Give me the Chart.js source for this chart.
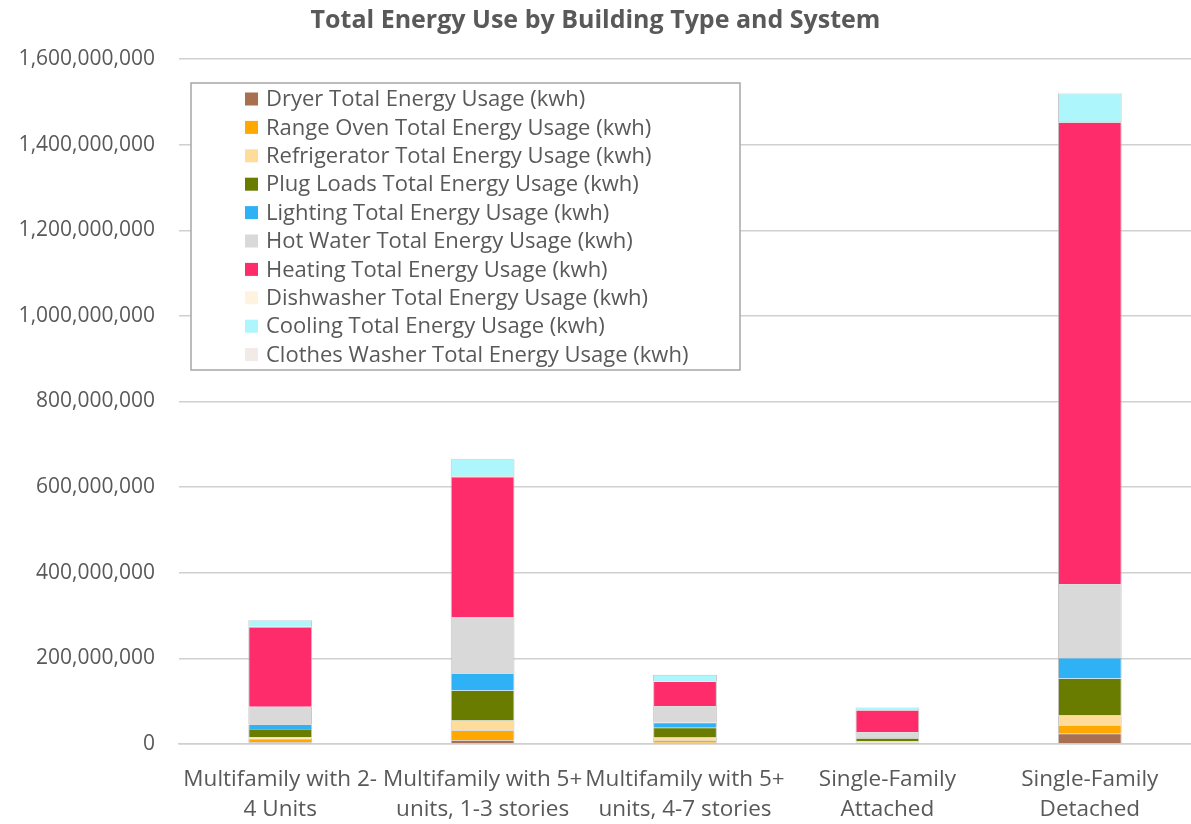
<!DOCTYPE html>
<html>
<head>
<meta charset="utf-8">
<script src="https://cdn.jsdelivr.net/npm/chart.js@4/dist/chart.umd.min.js"></script>
<style>
  html, body { margin: 0; padding: 0; background: #fff; }
  #wrap { width: 1191px; height: 824px; position: relative; }
</style>
</head>
<body>
<div id="wrap"><canvas id="c" width="1191" height="824"></canvas></div>
<script>
const categories = [
  ["Multifamily with 2-", "4 Units"],
  ["Multifamily with 5+", "units, 1-3 stories"],
  ["Multifamily with 5+", "units, 4-7 stories"],
  ["Single-Family", "Attached"],
  ["Single-Family", "Detached"]
];
const seriesNames = [
  "Dryer Total Energy Usage (kwh)",
  "Range Oven Total Energy Usage (kwh)",
  "Refrigerator Total Energy Usage (kwh)",
  "Plug Loads Total Energy Usage (kwh)",
  "Lighting Total Energy Usage (kwh)",
  "Hot Water Total Energy Usage (kwh)",
  "Heating Total Energy Usage (kwh)",
  "Dishwasher Total Energy Usage (kwh)",
  "Cooling Total Energy Usage (kwh)",
  "Clothes Washer Total Energy Usage (kwh)"
];
const seriesColors = ["#A86F50", "#FFA800", "#FFDC9A", "#697C00", "#2EB1F5", "#D9D9D9", "#FF2C6B", "#FFF3DF", "#ADF6FB", "#F2EAE6"];

const dryer        = [4000000, 9000000, 3000000, 1000000, 24000000];
const rangeOven    = [8000000, 23000000, 6000000, 2500000, 20000000];
const refrigerator = [4000000, 23000000, 6000000, 3000000, 23000000];
const plugLoads    = [19000000, 70000000, 23000000, 7000000, 86000000];
const lighting     = [11000000, 40000000, 12000000, 2500000, 48000000];
const hotWater     = [41000000, 131000000, 39000000, 12000000, 173000000];
const heating      = [186000000, 328000000, 57000000, 51000000, 1078000000];
const dishwasher   = [1000000, 2000000, 1000000, 500000, 3000000];
const cooling      = [15000000, 39000000, 14000000, 6000000, 64000000];
const clothesWasher= [500000, 1000000, 500000, 300000, 1500000];

const yMax = 1600000000;
const yStep = 200000000;

const seriesValues = [dryer, rangeOven, refrigerator, plugLoads, lighting, hotWater, heating, dishwasher, cooling, clothesWasher];

const FONT = "'Open Sans', 'Noto Sans', sans-serif";
const TXT = "#595959";

const datasets = seriesNames.map((name, i) => ({
  label: name,
  data: seriesValues[i],
  backgroundColor: seriesColors[i],
  borderColor: "rgba(180,180,180,0.8)",
  borderWidth: {left: 1, right: 1, top: 0.6, bottom: 0},
  borderSkipped: false,
  barPercentage: 0.315,
  categoryPercentage: 1.0,
  stack: "s"
}));

const boxLegend = {
  id: "boxLegend",
  afterDraw(chart) {
    const ctx = chart.ctx;
    const x0 = 191, y0 = 83, x1 = 740, y1 = 370;
    ctx.save();
    ctx.fillStyle = "#fff";
    ctx.fillRect(x0, y0, x1 - x0, y1 - y0);
    ctx.strokeStyle = "#a6a6a6";
    ctx.lineWidth = 1.5;
    ctx.strokeRect(x0, y0, x1 - x0, y1 - y0);
    ctx.font = "22px " + FONT;
    ctx.textBaseline = "middle";
    ctx.textAlign = "left";
    chart.data.datasets.forEach((ds, i) => {
      const cy = 99 + i * 28.4;
      ctx.fillStyle = ds.backgroundColor;
      ctx.fillRect(245, cy - 6.5, 13, 13);
      ctx.fillStyle = TXT;
      ctx.fillText(ds.label, 266, cy + 1);
    });
    ctx.restore();
  }
};

new Chart(document.getElementById("c"), {
  type: "bar",
  data: { labels: categories, datasets },
  options: {
    responsive: false,
    animation: false,
    layout: { padding: { left: 0, right: 0, top: 0, bottom: 0 } },
    plugins: {
      legend: { display: false },
      tooltip: { enabled: false },
      title: {
        display: true,
        text: "Total Energy Use by Building Type and System",
        color: TXT,
        font: { family: FONT, size: 25, weight: "bold", lineHeight: 1.2 },
        padding: { top: 6, bottom: 23 }
      }
    },
    scales: {
      x: {
        stacked: true,
        grid: { display: false, drawTicks: false },
        border: { display: true, color: "#d0d0d0", width: 1.5 },
        ticks: {
          color: TXT,
          font: { family: FONT, size: 22.5, lineHeight: 1.33 },
          padding: 21,
          maxRotation: 0,
          autoSkip: false
        },
        afterFit(scale) { scale.height = 80; }
      },
      y: {
        stacked: true,
        min: 0,
        max: yMax,
        grid: { color: "#d0d0d0", lineWidth: 1.5, drawTicks: false },
        border: { display: false },
        ticks: {
          stepSize: yStep,
          color: TXT,
          padding: 24,
          font: { family: FONT, size: 21 },
          callback: (v) => Number(v).toLocaleString("en-US")
        },
        afterFit(scale) { scale.width = 179; }
      }
    }
  },
  plugins: [boxLegend]
});
</script>
</body>
</html>
